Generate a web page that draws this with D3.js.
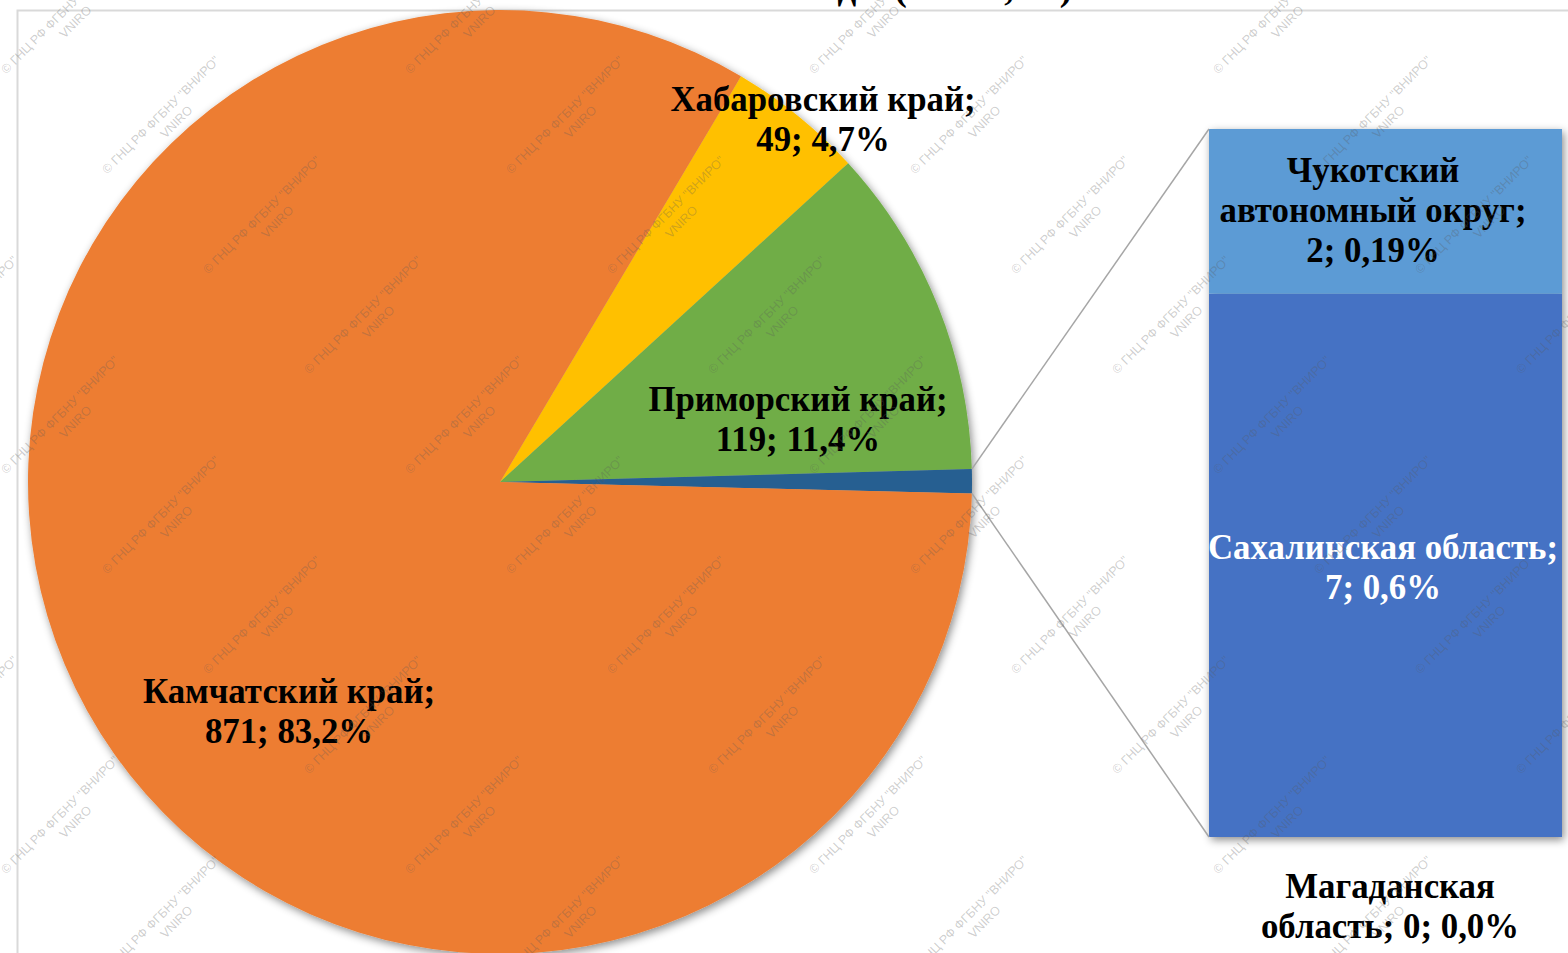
<!DOCTYPE html>
<html lang="ru">
<head>
<meta charset="UTF-8">
<title>Pie of bar</title>
<script src="https://d3js.org/d3.v7.min.js"></script>
<style>
  body { margin: 0; background: #fff; }
  .lbl { font-family: "Liberation Serif", "Times New Roman", serif; font-weight: bold; font-size: 34.8px; }
  .ttl { font-family: "Liberation Serif", "Times New Roman", serif; font-weight: bold; font-size: 37px; }
  .wm { font-family: "Liberation Sans", Arial, sans-serif; font-size: 12.5px; fill: rgba(90,90,90,0.3); }
</style>
</head>
<body>
<div id="chart"></div>
<script>
// main pie
var pieNames  = ["Хабаровский край", "Приморский край", "другие", "Камчатский край"];
var pieValues = [49, 119, null, 871];
var piePct    = ["4,7%", "11,4%", "", "83,2%"];
var pieColors = ["#FFC000", "#70AD47", "#255E91", "#ED7D31"];

// secondary bar (bottom to top)
var barNames  = ["Магаданская область", "Сахалинская область", "Чукотский автономный округ"];
var barValues = [0, 6.6, 2];
var barPct    = ["0,0%", "0,6%", "0,19%"];
var barColors = ["#A5A5A5", "#4472C4", "#5B9BD5"];

pieValues[2] = d3.sum(barValues);

var W = 1568, H = 953;
var cx = 500, cy = 482, R = 472;
var fmt = d3.format(".0f");

var svg = d3.select("#chart").append("svg")
  .attr("width", W).attr("height", H);

var defs = svg.append("defs");
var f = defs.append("filter").attr("id", "sh")
  .attr("x", "-10%").attr("y", "-10%").attr("width", "120%").attr("height", "120%");
f.append("feDropShadow").attr("dx", 2).attr("dy", 3).attr("stdDeviation", 4)
  .attr("flood-color", "#000").attr("flood-opacity", 0.45);

// chart area border
svg.append("rect").attr("x", 17.5).attr("y", 10.5).attr("width", W).attr("height", H)
  .attr("fill", "none").attr("stroke", "#d9d9d9").attr("stroke-width", 2);

// title (cut off at the top)
svg.append("text").attr("class", "ttl").attr("x", 1072).attr("y", 0)
  .attr("text-anchor", "end").text("годы (тыс. т, %)");

var pie = d3.pie().sort(null).value(function(d) { return d; })
  .startAngle(30.7 * Math.PI / 180).endAngle(30.7 * Math.PI / 180 + 2 * Math.PI);
var arcs = pie(pieValues);
var arc = d3.arc().innerRadius(0).outerRadius(R);

var g = svg.append("g").attr("transform", "translate(" + cx + "," + cy + ")");
g.append("g").attr("filter", "url(#sh)")
  .selectAll("path").data(arcs).enter().append("path")
  .attr("d", arc)
  .attr("fill", function(d, i) { return pieColors[i]; });

// bar
var bx0 = 1209, bx1 = 1562;
var y = d3.scaleLinear().domain([0, d3.sum(barValues)]).range([837, 129]);
var stack = [], acc = 0;
barValues.forEach(function(v, i) { stack.push({i: i, y0: acc, y1: acc + v}); acc += v; });

svg.append("g").attr("filter", "url(#sh)")
  .selectAll("rect").data(stack.filter(function(d) { return d.y1 > d.y0; })).enter().append("rect")
  .attr("x", bx0).attr("width", bx1 - bx0)
  .attr("y", function(d) { return y(d.y1); })
  .attr("height", function(d) { return y(d.y0) - y(d.y1); })
  .attr("fill", function(d) { return barColors[d.i]; });

// connectors
var other = arcs[2];
function edge(a) { return [cx + R * Math.sin(a), cy - R * Math.cos(a)]; }
var pA = edge(other.startAngle), pB = edge(other.endAngle);
svg.append("line").attr("x1", pA[0]).attr("y1", pA[1]).attr("x2", bx0).attr("y2", y(d3.sum(barValues)))
  .attr("stroke", "#a6a6a6").attr("stroke-width", 1.5);
svg.append("line").attr("x1", pB[0]).attr("y1", pB[1]).attr("x2", bx0).attr("y2", y(0))
  .attr("stroke", "#a6a6a6").attr("stroke-width", 1.5);

// labels
function label(lines, x, yTop, color) {
  var t = svg.append("text").attr("class", "lbl").attr("text-anchor", "middle")
    .attr("fill", color || "#000");
  lines.forEach(function(s, k) {
    t.append("tspan").attr("x", x).attr("y", yTop + k * 40).text(s);
  });
}
// label layout: [centre x, first baseline]
var pieLabelPos = [[823, 111], [798, 411], null, [289, 703]];
arcs.forEach(function(d, i) {
  if (!pieLabelPos[i]) return;
  label([pieNames[i] + ";", fmt(pieValues[i]) + "; " + piePct[i]], pieLabelPos[i][0], pieLabelPos[i][1]);
});
label(["Чукотский", "автономный округ;", fmt(barValues[2]) + "; " + barPct[2]], 1373, 182);
label(["Сахалинская область;", fmt(barValues[1]) + "; " + barPct[1]], 1383, 559, "#fff");
label(["Магаданская", "область; " + fmt(barValues[0]) + "; " + barPct[0]], 1390, 898);

// watermark
var wm = svg.append("g");
for (var j = -6; j < 12; j++) {
  for (var i = -4; i < 6; i++) {
    var x = 565 + i * 404 + j * 101, yy = 115 + j * 100;
    if (x < -150 || x > W + 150 || yy < -100 || yy > H + 100) continue;
    var w = wm.append("g").attr("transform", "translate(" + x + "," + yy + ") rotate(-45)");
    w.append("text").attr("class", "wm").attr("text-anchor", "middle").attr("y", 4)
      .text("© ГНЦ РФ ФГБНУ \"ВНИРО\"");
    w.append("text").attr("class", "wm").attr("text-anchor", "middle").attr("x", 6).attr("y", 20)
      .text("VNIRO");
  }
}
</script>
</body>
</html>
